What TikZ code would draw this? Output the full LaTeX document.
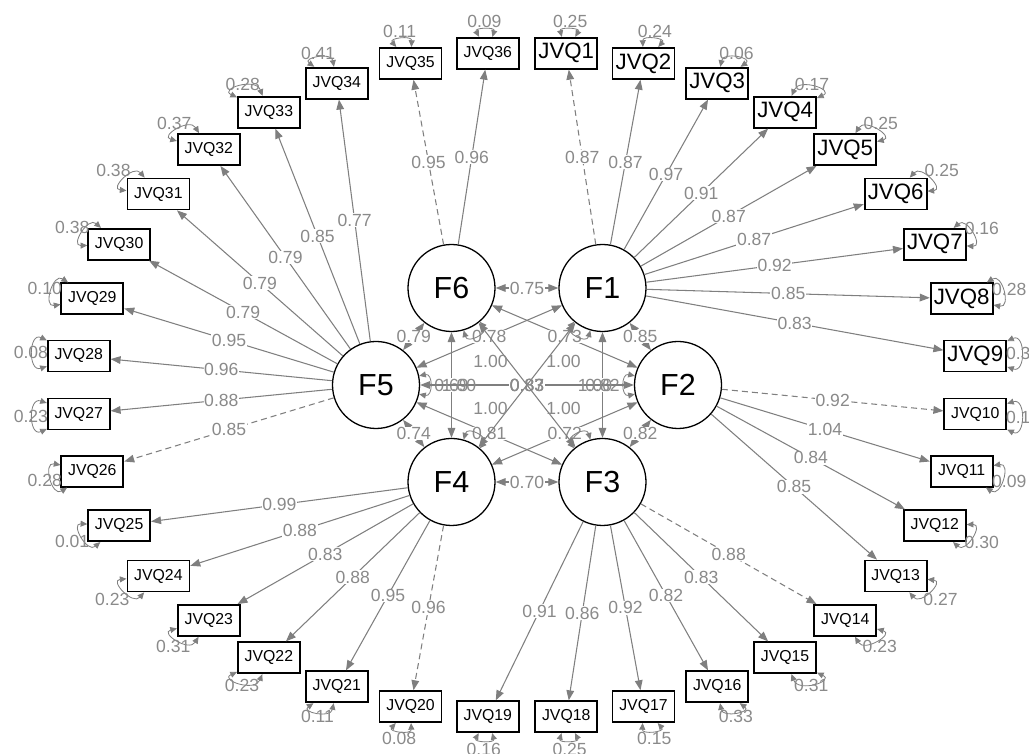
\documentclass[tikz,border=0pt]{standalone}
\usepackage{fontspec}
\setmainfont{Liberation Sans}
\usepackage{xcolor}
\usepackage{tikz}
\usetikzlibrary{calc, arrows.meta}

\definecolor{pathgray}{HTML}{7F7F7F}
\definecolor{labelgray}{HTML}{8A8A8A}

\tikzset{
	manifest/.style={draw=black, line width=1.5pt, fill=white, minimum width=18.6mm, minimum height=9.3mm, inner sep=0pt},
	smallbox/.style={manifest, font=\fontsize{13.5}{14}\selectfont},
	bigbox/.style={manifest, font=\fontsize{19}{20}\selectfont},
	latent/.style={circle, draw=black, line width=1.1pt, fill=white, minimum size=26.1mm, inner sep=0pt, font=\fontsize{26}{28}\selectfont},
	load/.style={draw=pathgray, line width=0.9pt, -{Triangle[length=3mm, width=2.3mm]}},
	fixload/.style={load, dash pattern=on 1.8mm off 1.2mm},
	covar/.style={draw=pathgray, line width=0.9pt, {Triangle[length=3mm, width=2.3mm]}-{Triangle[length=3mm, width=2.3mm]}},
	resid/.style={draw=pathgray, line width=0.7pt, {Triangle[length=2mm, width=1.8mm]}-{Triangle[length=2mm, width=1.8mm]}},
	lab/.style={text=labelgray, fill=white, inner sep=0.6pt, font=\fontsize{15}{16}\selectfont},
	labover/.style={lab, fill=none},
}

\begin{document}
\begin{tikzpicture}[x=0.3mm, y=0.3mm]
	\useasboundingbox (0,0) rectangle (1029,754);
	\clip (0,0) rectangle (1029,754);

	% Factors on the inner ellipse
	\foreach \f/\a in {F1/60, F2/0, F3/-60, F4/-120, F5/180, F6/120} {
		\node (\f) at ({527+151*cos(\a)}, {369+112*sin(\a)}) [latent] {\f};
	}

	% Indicators on the outer ellipse
	\foreach \i in {1,...,9} {
		\node (q\i) at ({527+450*cos(95-10*\i)}, {369+333*sin(95-10*\i)}) [bigbox] {JVQ\i};
	}
	\foreach \i in {10,...,36} {
		\node (q\i) at ({527+450*cos(95-10*\i)}, {369+333*sin(95-10*\i)}) [smallbox] {JVQ\i};
	}

	% Loadings (first one of each factor fixed)
	\foreach \f/\i/\v/\s in {F1/1/0.87/fixload, F1/2/0.87/load, F1/3/0.97/load, F1/4/0.91/load, F1/5/0.87/load,
		F1/6/0.87/load, F1/7/0.92/load, F1/8/0.85/load, F1/9/0.83/load,
		F2/10/0.92/fixload, F2/11/1.04/load, F2/12/0.84/load, F2/13/0.85/load,
		F3/14/0.88/fixload, F3/15/0.83/load, F3/16/0.82/load, F3/17/0.92/load, F3/18/0.86/load, F3/19/0.91/load,
		F4/20/0.96/fixload, F4/21/0.95/load, F4/22/0.88/load, F4/23/0.83/load, F4/24/0.88/load, F4/25/0.99/load,
		F5/26/0.85/fixload, F5/27/0.88/load, F5/28/0.96/load, F5/29/0.95/load, F5/30/0.79/load,
		F5/31/0.79/load, F5/32/0.79/load, F5/33/0.85/load, F5/34/0.77/load,
		F6/35/0.95/fixload, F6/36/0.96/load} {
		\draw [\s] (\f) -- node [lab] (l\i) {\v} (q\i);
	}

	% Residual variances, pointing away from the centre
	\foreach \i/\r in {1/0.25, 2/0.24, 3/0.06, 4/0.17, 5/0.25, 6/0.25, 7/0.16, 8/0.28, 9/0.32,
		10/0.16, 11/0.09, 12/0.30, 13/0.27, 14/0.23, 15/0.31, 16/0.33, 17/0.15, 18/0.25,
		19/0.16, 20/0.08, 21/0.11, 22/0.23, 23/0.31, 24/0.23, 25/0.01, 26/0.28, 27/0.23,
		28/0.08, 29/0.10, 30/0.38, 31/0.38, 32/0.37, 33/0.28, 34/0.41, 35/0.11, 36/0.09} {
		\pgfmathsetmacro\th{95-10*\i}
		\pgfmathtruncatemacro\ph{mod(atan2(333*sin(\th), 450*cos(\th))+720, 360)}
		\pgfmathtruncatemacro\pa{mod(\ph+22, 360)}
		\pgfmathtruncatemacro\pb{mod(\ph+338, 360)}
		\draw [resid] (q\i.\pa) to [out=\pa, in=\pb, looseness=2] (q\i.\pb);
		\node (r\i) at ($(q\i.\ph)+(\ph:16)$) [labover] {\r};
	}

	% Factor covariances
	\foreach \a/\b/\v in {F6/F1/0.75, F1/F2/0.85, F2/F3/0.82, F3/F4/0.70, F4/F5/0.74, F5/F6/0.79,
		F5/F1/0.78, F6/F2/0.73, F5/F3/0.81, F4/F2/0.72, F6/F4/0.69, F1/F3/0.82, F2/F5/0.87} {
		\draw [covar] (\a) -- node [lab] (c\a\b) {\v} (\b);
	}
	\draw [covar] (F1) -- node [labover] (cF1F4) {0.83} (F4);
	\draw [covar] (F3) -- node [labover] (cF3F6) {0.83} (F6);

	% Factor variances, pointing to the centre
	\foreach \f/\a in {F1/242, F2/180, F3/118, F4/62, F5/360, F6/298} {
		\pgfmathtruncatemacro\pa{mod(\a+12, 360)}
		\pgfmathtruncatemacro\pb{mod(\a+348, 360)}
		\draw [resid] (\f.\pa) to [out=\pa, in=\pb, looseness=2] (\f.\pb);
		\node (v\f) at ($(\f)+(\a:83)$) [labover] {1.00};
	}
\end{tikzpicture}
\end{document}
